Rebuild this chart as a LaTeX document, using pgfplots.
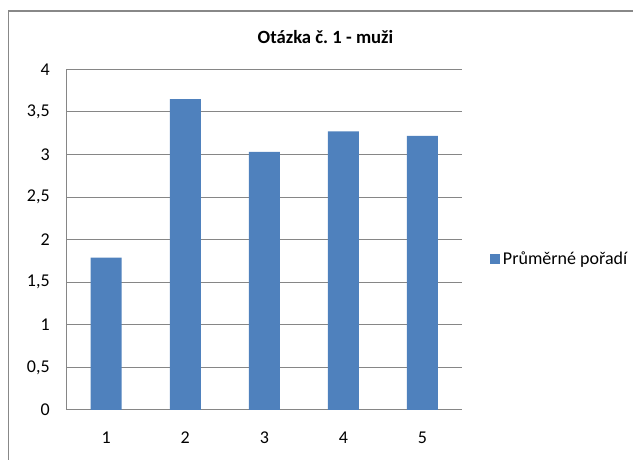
\documentclass[border=0pt]{standalone}
\usepackage{pgfplots}
\pgfplotsset{compat=1.18}
\usepackage{fontspec}
\setmainfont{Carlito}
\frenchspacing

\definecolor{barblue}{RGB}{79,129,189}
\definecolor{gridgray}{RGB}{134,134,134}
\definecolor{framegray}{RGB}{136,136,136}

\begin{document}
\begin{tikzpicture}
% picture is 633x460 px, 1px = 0.75pt
\path[use as bounding box] (0,0) rectangle (474.75pt,345pt);
% chart frame (only top and left edges are visible)
\draw[framegray, line width=1.2pt] (6.4pt,0pt) -- (6.4pt,336.7pt) -- (474.75pt,336.7pt);
% title
\node[anchor=base, font=\fontsize{14}{16}\selectfont\bfseries, inner sep=0pt]
  at (244.1pt,312pt) {Otázka č. 1 - muži};
\begin{axis}[
  at={(50pt,37.5pt)}, anchor=south west,
  scale only axis,
  width=296.5pt, height=255.5pt,
  ybar, bar width=23.25pt,
  xmin=0.5, xmax=5.5, ymin=0, ymax=4,
  xtick={1,2,3,4,5},
  ytick={0,0.5,...,4},
  axis lines=left,
  axis line style={-, draw=gridgray, line width=0.75pt},
  major tick length=0pt,
  ymajorgrids,
  grid style={draw=gridgray, line width=0.75pt},
  /pgf/number format/.cd, use comma, fixed, precision=1, assume math mode=true,
  /pgfplots/.cd,
  ticklabel style={font=\fontsize{13.5}{15}\selectfont, inner sep=0pt},
  yticklabel style={anchor=east, xshift=-12.5pt},
  xticklabel style={anchor=center, yshift=-21pt},
  legend style={at={(1.071,0.443)}, anchor=west, draw=none, fill=none,
    inner sep=0pt, font=\fontsize{13.5}{15}\selectfont,
    /tikz/every even column/.append style={column sep=0pt}},
  legend cell align=left,
  legend image code/.code={\fill[barblue] (0pt,-3.75pt) rectangle (7.5pt,3.75pt);},
]
\addplot[fill=barblue, draw=none] coordinates {(1,1.79) (2,3.65) (3,3.03) (4,3.27) (5,3.22)};
\addlegendentry{Průměrné pořadí}
\end{axis}
\end{tikzpicture}
\end{document}
